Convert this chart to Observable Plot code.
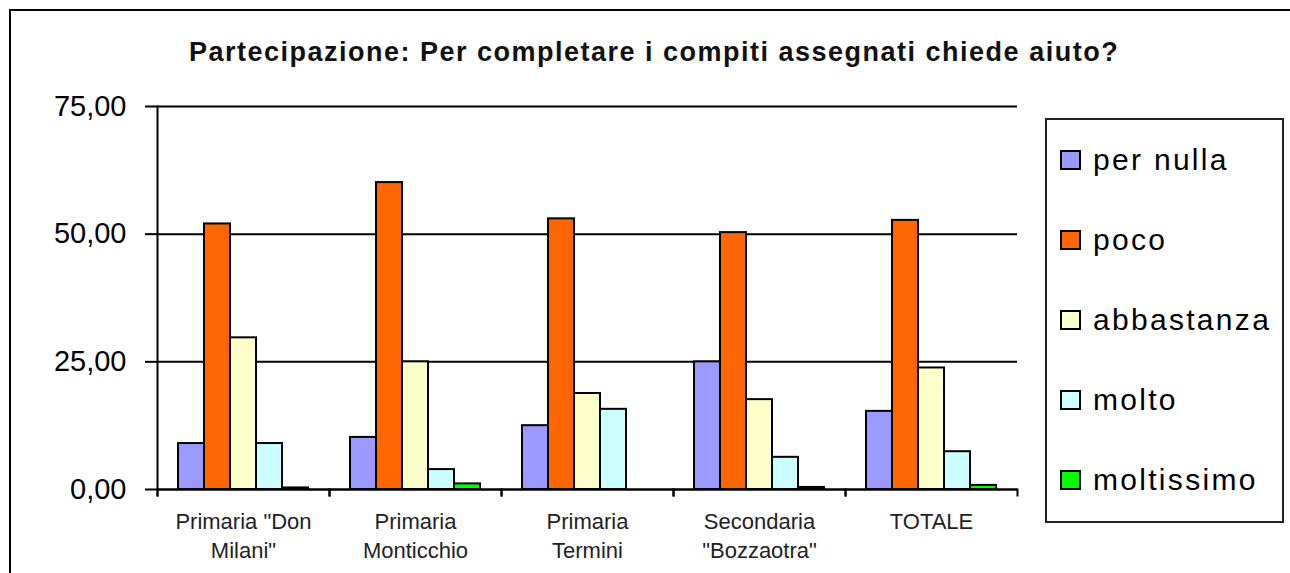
<!DOCTYPE html>
<html>
<head>
<meta charset="utf-8">
<script src="https://cdn.jsdelivr.net/npm/d3@7"></script>
<script src="https://cdn.jsdelivr.net/npm/@observablehq/plot@0.6"></script>
<style>
  html, body { margin: 0; padding: 0; background: #fff; }
  #wrap { position: relative; width: 1290px; height: 573px; overflow: hidden; font-family: "Liberation Sans", Arial, sans-serif; color: #000; }
  #border { position: absolute; left: 9px; top: 9px; width: 1320px; height: 620px; border: 2px solid #000; box-sizing: border-box; }
  #title { position: absolute; left: 154px; width: 1000px; top: 39px; text-align: center; font-weight: bold; font-size: 27px; letter-spacing: 1.5px; line-height: 27px; color: #111; }
  #chart { position: absolute; left: 0; top: 0; }
  #legend { position: absolute; left: 1045px; top: 118px; width: 239px; height: 405px; box-sizing: border-box; border: 2px solid #222; background: #fff; }
  .item { display: flex; align-items: center; height: 80px; }
  .sw { width: 21px; height: 20px; box-sizing: border-box; border: 2px solid #000; margin-left: 13px; margin-right: 12px; }
  .lab { font-size: 30px; letter-spacing: 2.3px; line-height: 30px; }
</style>
</head>
<body>
<div id="wrap">
  <div id="border"></div>
  <div id="chart"></div>
  <div id="title"></div>
  <div id="legend"></div>
</div>
<script>
const titleText = "Partecipazione: Per completare i compiti assegnati chiede aiuto?";
const categories = ["Primaria \"Don Milani\"", "Primaria Monticchio", "Primaria Termini", "Secondaria \"Bozzaotra\"", "TOTALE"];
const categoryLabels = ["Primaria \"Don\nMilani\"", "Primaria\nMonticchio", "Primaria\nTermini", "Secondaria\n\"Bozzaotra\"", "TOTALE"];
const series = ["per nulla", "poco", "abbastanza", "molto", "moltissimo"];
const colors = ["#9999FF", "#FF6600", "#FFFFCC", "#CCFFFF", "#00FF00"];
const perNulla   = [9.0, 10.2, 12.5, 25.0, 15.3];
const poco       = [52.0, 60.1, 53.0, 50.3, 52.7];
const abbastanza = [29.7, 25.0, 18.8, 17.6, 23.8];
const molto      = [9.0, 3.9, 15.7, 6.3, 7.4];
const moltissimo = [0.3, 1.1, 0.0, 0.4, 0.8];
const yTicks = [0, 25, 50, 75];

const seriesValues = [perNulla, poco, abbastanza, molto, moltissimo];
const data = [];
categories.forEach((c, i) => {
  series.forEach((s, j) => data.push({category: c, series: s, value: seriesValues[j][i]}));
});
const fmt = d => d.toFixed(2).replace(".", ",");

document.getElementById("title").textContent = titleText;

const legend = document.getElementById("legend");
series.forEach((s, j) => {
  const item = document.createElement("div");
  item.className = "item";
  const sw = document.createElement("div");
  sw.className = "sw";
  sw.style.background = colors[j];
  const lab = document.createElement("span");
  lab.className = "lab";
  lab.textContent = s;
  item.appendChild(sw);
  item.appendChild(lab);
  legend.appendChild(item);
});

const plotHeight = 573 - 106 - 84;
const chart = Plot.plot({
  width: 1290,
  height: 573,
  marginLeft: 155,
  marginRight: 272,
  marginTop: 106,
  marginBottom: 84,
  style: {background: "transparent", fontFamily: "'Liberation Sans', Arial, sans-serif", color: "#000", overflow: "visible"},
  fx: {domain: categories, padding: 0, label: null},
  x: {domain: series, paddingInner: 0, paddingOuter: 0.8, axis: null},
  y: {domain: [0, 75], label: null},
  color: {domain: series, range: colors},
  marks: [
    Plot.gridY(yTicks, {stroke: "#000", strokeOpacity: 1, strokeWidth: 2}),
    Plot.axisY(yTicks, {tickSize: 12, tickPadding: 19, fontSize: 29, tickFormat: fmt, strokeWidth: 2, label: null}),
    Plot.axisFx({anchor: "bottom", tickSize: 0, tickPadding: 18, fontSize: 22, lineHeight: 1.35, fill: "#222", tickFormat: d => categoryLabels[categories.indexOf(d)], label: null}),
    Plot.barY(data, {fx: "category", x: "series", y: "value", fill: "series", stroke: "#000", strokeWidth: 2}),
    Plot.ruleY([0], {stroke: "#000", strokeWidth: 2}),
    Plot.frame({anchor: "left", insetTop: plotHeight, insetBottom: -6, strokeWidth: 2}),
    Plot.frame({anchor: "right", insetTop: plotHeight, insetBottom: -6, strokeWidth: 2}),
    Plot.frame({anchor: "left", facet: "super", insetBottom: -6, strokeWidth: 2})
  ]
});
document.getElementById("chart").appendChild(chart);
</script>
</body>
</html>
